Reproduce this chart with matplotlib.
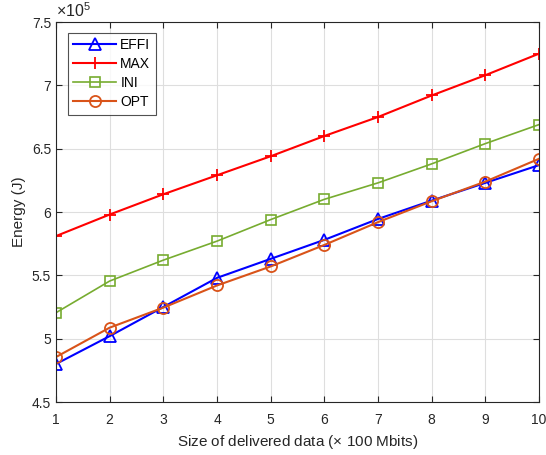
import matplotlib
matplotlib.use("Agg")
import matplotlib.pyplot as plt
from matplotlib.ticker import FuncFormatter

plt.rcParams['font.family'] = ['Liberation Sans', 'DejaVu Sans']
plt.rcParams['mathtext.fontset'] = 'custom'
plt.rcParams['mathtext.rm'] = 'Liberation Sans'

x = [1, 2, 3, 4, 5, 6, 7, 8, 9, 10]
effi = [4.80, 5.02, 5.25, 5.48, 5.63, 5.78, 5.945, 6.09, 6.23, 6.37]
maxv = [5.81, 5.98, 6.14, 6.29, 6.44, 6.60, 6.75, 6.92, 7.08, 7.25]
ini = [5.205, 5.455, 5.62, 5.77, 5.94, 6.10, 6.23, 6.38, 6.54, 6.69]
opt = [4.855, 5.087, 5.245, 5.42, 5.57, 5.74, 5.92, 6.085, 6.24, 6.42]
labels = ['EFFI', 'MAX', 'INI', 'OPT']

fig = plt.figure(figsize=(5.46, 4.55), dpi=100)
ax = fig.add_axes([56/546, 1-402/455, (539-56)/546, (402-22)/455])

ax.plot(x, effi, color=(0, 0, 1), lw=1.5, marker='^', ms=8, mfc='none', mew=1.3, label=labels[0])
ax.plot(x, maxv, color=(1, 0, 0), lw=1.5, marker='+', ms=8, mew=1.3, label=labels[1])
ax.plot(x, ini, color=(0.466, 0.674, 0.188), lw=1.2, marker='s', ms=6.5, mfc='none', mew=1.2, label=labels[2])
ax.plot(x, opt, color=(0.85, 0.325, 0.098), lw=1.5, marker='o', ms=8, mfc='none', mew=1.3, label=labels[3])

ax.set_xlim(1, 10)
ax.set_ylim(4.5, 7.5)
ax.set_xticks(range(1, 11))
ax.set_yticks([4.5, 5, 5.5, 6, 6.5, 7, 7.5])
ax.yaxis.set_major_formatter(FuncFormatter(lambda v, p: '%g' % v))
ax.grid(True, color=(0.87, 0.87, 0.87), lw=0.8)
ax.set_axisbelow(True)
ax.tick_params(direction='in', top=True, right=True, labelsize=10, colors=(0.15, 0.15, 0.15), length=4)
ax.tick_params(axis='x', pad=8)
for s in ax.spines.values():
    s.set_color((0.15, 0.15, 0.15))
    s.set_linewidth(0.8)

ax.set_xlabel('Size of delivered data ($\\times$ 100 Mbits)', fontsize=11, color=(0.15, 0.15, 0.15))
ax.set_ylabel('Energy (J)', fontsize=11, color=(0.15, 0.15, 0.15))
ax.text(0.0, 1.005, '$\\times10^5$', transform=ax.transAxes, fontsize=11.5, color=(0.15, 0.15, 0.15), ha='left', va='bottom')

leg = ax.legend(loc='upper left', bbox_to_anchor=(0.024, 0.972), fontsize=10, frameon=True, fancybox=False,
                edgecolor=(0.15, 0.15, 0.15), handlelength=3.1, borderpad=0.4, labelspacing=0.36, handletextpad=0.3,
                borderaxespad=0.0)
leg.get_frame().set_linewidth(0.8)

fig.savefig('out.png', dpi=100)
